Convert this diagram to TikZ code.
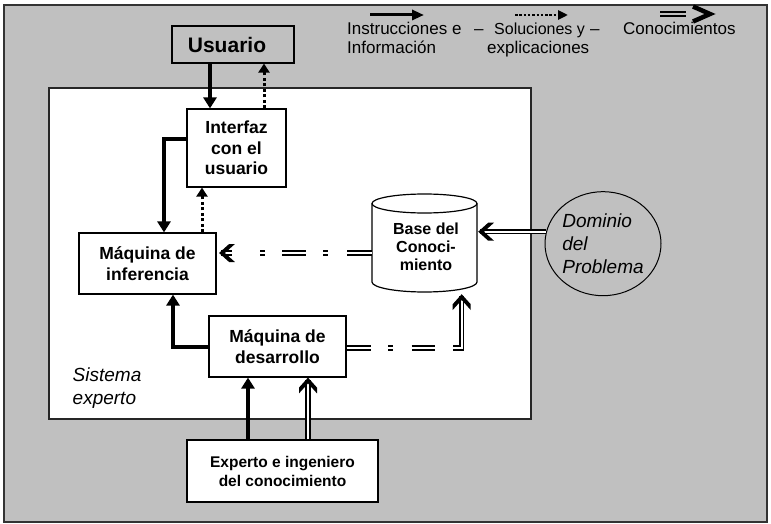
\documentclass[tikz,border=0pt]{standalone}
\usepackage{fontspec}
\setmainfont{Liberation Sans}
\usetikzlibrary{arrows.meta,shapes.geometric,shadows,decorations.markings}
\definecolor{bggray}{RGB}{192,192,192}
\begin{document}
\begin{tikzpicture}[x=1pt,y=-1pt,
  box/.style={draw=black, line width=1.2pt, fill=white, inner sep=0pt, align=center,
    font=\bfseries\fontsize{17.5}{20.5}\selectfont,
    drop shadow={shadow xshift=1.2pt,shadow yshift=-1.2pt,fill=black!60,opacity=1}},
  thickarr/.style={line width=4pt, -{Triangle[length=11pt,width=13pt]}},
  dotarr/.style={line width=3pt, dash pattern=on 3pt off 2.5pt, -{Triangle[length=9pt,width=11pt]}},
  dblline/.style={double, double distance=2.2pt, line width=1.6pt, shorten >=2pt},
  dbltip/.style={decoration={markings, mark=at position 1 with {
      \fill[black] (0pt,0pt) -- (-10pt,9pt) -- (-15.8pt,9pt) -- (-5.8pt,0pt)
        -- (-15.8pt,-9pt) -- (-10pt,-9pt) -- cycle;}}, decorate},
  legtext/.style={anchor=base west, inner sep=0pt, font=\fontsize{17}{19}\selectfont},
]
% canvas and frames
\path[use as bounding box] (0,0) rectangle (771,524);
\fill[white] (0,0) rectangle (771,524);
\draw[fill=bggray, draw=black!80, line width=2pt] (3.5,5) rectangle (766.5,521.5);
\draw[fill=white, draw=black!85, line width=1.5pt] (49,88) rectangle (531,419);

% legend
\coordinate (l1a) at (370,15); \coordinate (l1b) at (424,15);
\draw[line width=3pt, -{Triangle[length=12pt,width=10pt]}] (l1a) -- (l1b);
\coordinate (l2a) at (515,15); \coordinate (l2b) at (568,15);
\draw[line width=2.6pt, dash pattern=on 2.5pt off 1.8pt, -{Triangle[length=10pt,width=9pt]}] (l2a) -- (l2b);
\coordinate (l3a) at (660,14); \coordinate (l3b) at (686,14);
\draw[double, double distance=2.2pt, line width=1.6pt, double=bggray] (l3a) -- (l3b);
\draw[line width=4.5pt, line join=miter] (693,6.5) -- (710,14) -- (693,21.5);
\node[legtext] (t1) at (347,35) {Instrucciones e};
\node[legtext] (t2) at (474,35) {–};
\node[legtext, font=\fontsize{16}{19}\selectfont] (t3) at (494,35) {Soluciones y};
\node[legtext] (t4) at (590,35) {–};
\node[legtext] (t5) at (623,35) {Conocimientos};
\node[legtext] (t6) at (347,53.5) {Información};
\node[legtext] (t7) at (487,53.5) {explicaciones};

% nodes
\node[box, fill=bggray, minimum width=122pt, minimum height=37pt,
  font=\bfseries\fontsize{21}{24}\selectfont] (usuario) at (233,44.5) {Usuario\hspace*{12pt}};
\node[box, minimum width=99pt, minimum height=78pt] (interfaz) at (236.5,148) {Interfaz\\con el\\usuario};
\node[box, minimum width=137pt, minimum height=61pt] (inferencia) at (147.5,263.5) {Máquina de\\inferencia};
\node[box, minimum width=137pt, minimum height=61pt] (desarrollo) at (277.5,346.5) {Máquina de\\desarrollo};
\node[box, minimum width=191pt, minimum height=62pt,
  font=\bfseries\fontsize{15.5}{19}\selectfont] (experto) at (282.5,471) {Experto e ingeniero\\del conocimiento};

% cylinder (Base del Conocimiento)
\node[minimum width=105pt, minimum height=98pt, inner sep=0pt] (base) at (424.5,243) {};
\fill[white] (372,203.5) -- (372,282) arc[start angle=180,end angle=360,x radius=52.5pt,y radius=10pt]
  -- (477,203.5) arc[start angle=0,end angle=180,x radius=52.5pt,y radius=9.5pt] -- cycle;
\draw[line width=1.2pt] (372,203.5) -- (372,282) arc[start angle=180,end angle=360,x radius=52.5pt,y radius=10pt]
  -- (477,203.5);
\draw[line width=1.2pt] (424.5,203.5) ellipse [x radius=52.5pt, y radius=9.5pt];
\node[align=center, inner sep=0pt, font=\bfseries\fontsize{16}{18}\selectfont] (basetext) at (426,247) {Base del\\Conoci-\\miento};

% dominio
\node[ellipse, draw, line width=1pt, minimum width=116pt, minimum height=104pt, inner sep=0pt,
  align=left, font=\itshape\fontsize{19}{23}\selectfont] (dominio) at (603,243.7) {Dominio\\del\\Problema};

% sistema experto label
\node[anchor=west, align=left, inner sep=0pt, font=\itshape\fontsize{19}{22.7}\selectfont] (sistema) at (72.5,388) {Sistema\\experto};

% connectors
\draw[thickarr] ([xshift=-23pt]usuario.south) -- ([xshift=-26.5pt]interfaz.north);
\draw[dotarr] ([xshift=27.5pt]interfaz.north) -- ([xshift=31pt]usuario.south);
\draw[thickarr] ([yshift=9pt]interfaz.west) -| ([xshift=16.5pt]inferencia.north);
\draw[dotarr] ([xshift=54.5pt]inferencia.north) -- ([xshift=-34.5pt]interfaz.south);
\draw[thickarr] (desarrollo.west) -| ([xshift=25.5pt]inferencia.south);
\draw[thickarr] ([xshift=-34.5pt]experto.north) -- ([xshift=-29.5pt]desarrollo.south);

% knowledge (double) connectors: shaft, then solid chevron tip
\draw[dblline, dash pattern=on 25.3pt off 18.7pt on 5.3pt off 16.7pt on 24.3pt off 16.7pt on 5pt off 28pt on 100pt off 1pt]
  ([yshift=-10pt]base.west) -- ([yshift=10.5pt,xshift=2.5pt]inferencia.east);
\path[dbltip] ([yshift=-10pt]base.west) -- ([yshift=10.5pt,xshift=2.5pt]inferencia.east);

\draw[dblline, dash pattern=on 24pt off 17.6pt on 5pt off 18.4pt on 23.3pt off 18.3pt on 300pt off 1pt]
  ([yshift=-1.5pt]desarrollo.east) -| ([xshift=37.2pt,yshift=-2pt]base.south);
\path[dbltip] ([yshift=-1.5pt]desarrollo.east) -| ([xshift=37.2pt,yshift=-2pt]base.south);

\draw[dblline] ([xshift=25.5pt]experto.north) -- ([xshift=30.5pt]desarrollo.south);
\path[dbltip] ([xshift=25.5pt]experto.north) -- ([xshift=30.5pt]desarrollo.south);

\draw[dblline] ([yshift=12pt,xshift=1.5pt]dominio.west) -- ([yshift=11.3pt,xshift=1pt]base.east);
\path[dbltip] ([yshift=12pt,xshift=1.5pt]dominio.west) -- ([yshift=11.3pt,xshift=1pt]base.east);
\end{tikzpicture}
\end{document}
